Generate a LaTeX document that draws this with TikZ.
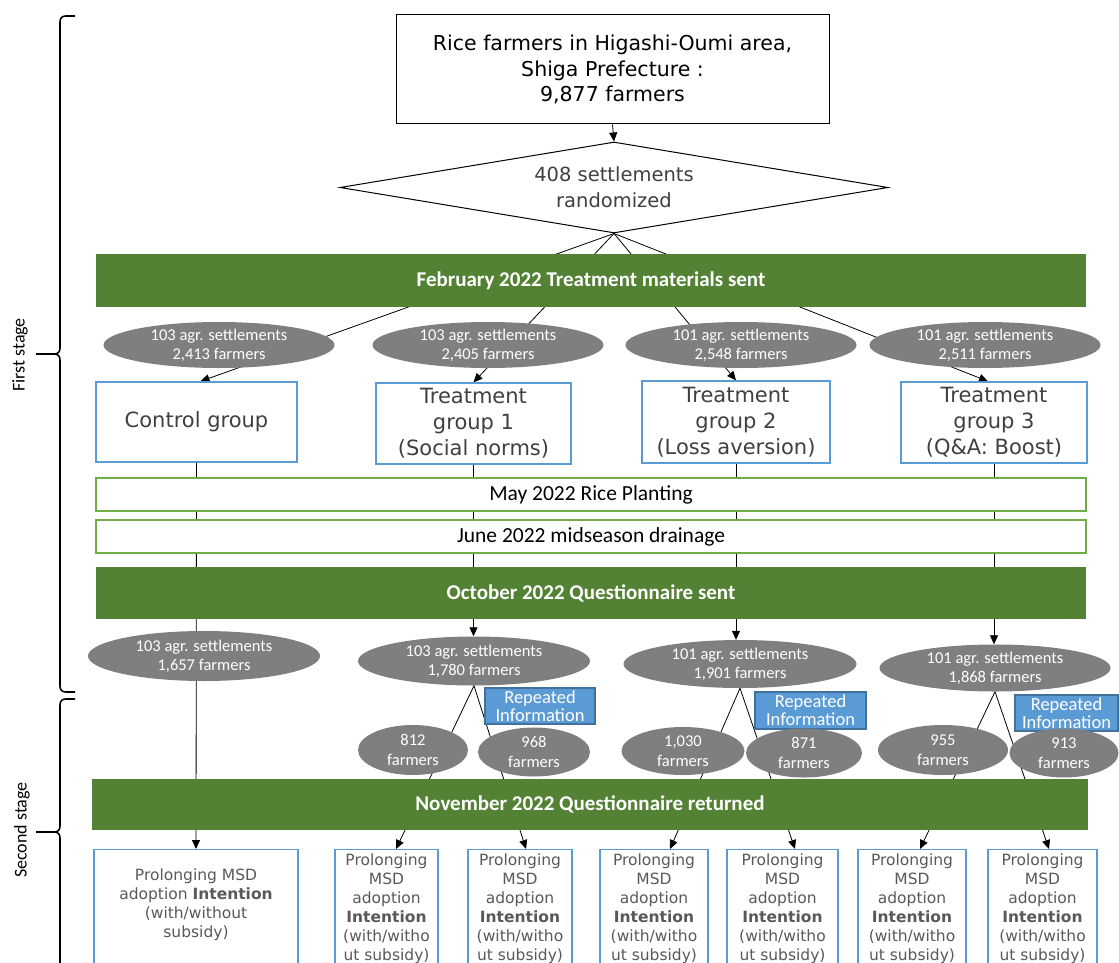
\documentclass[tikz,border=0pt]{standalone}
\usepackage{fontspec}
\setmainfont{Carlito}
\newfontfamily\dvfont{DejaVu Sans}
\usetikzlibrary{shapes.geometric,arrows.meta,calc,backgrounds}
\definecolor{barg}{HTML}{548235}
\definecolor{lineg}{HTML}{70AD47}
\definecolor{boxb}{HTML}{5B9BD5}
\definecolor{repb}{HTML}{41719C}
\definecolor{ellg}{HTML}{7F7F7F}
\definecolor{txtg}{HTML}{404040}
\definecolor{txtr}{HTML}{595959}
\newcommand{\resttxt}{Prolonging\\MSD\\adoption\\\textbf{Intention}\\(with/witho\\ut subsidy)\\[-13pt]\mbox{}}
\tikzset{
  bar/.style={fill=barg, text=white, font=\bfseries\fontsize{21}{25}\selectfont, minimum width=990pt, minimum height=53pt, inner sep=0pt},
  tbar/.style={draw=lineg, line width=1.4pt, fill=white, minimum width=990pt, minimum height=33pt, inner sep=0pt, font=\fontsize{21.5}{25}\selectfont},
  grp/.style={draw=boxb, line width=1.3pt, fill=white, text=txtg, font=\dvfont\fontsize{21}{26}\selectfont, align=center, inner sep=0pt},
  ell/.style={ellipse, fill=ellg, text=white, font=\fontsize{16.5}{19}\selectfont, align=center, inner xsep=0pt, inner ysep=-3pt},
  sell/.style={ellipse, fill=ellg, text=white, font=\fontsize{16.5}{19.5}\selectfont, align=center, inner xsep=0pt, inner ysep=-3pt},
  rep/.style={fill=boxb, draw=repb, line width=1.3pt, text=white, font=\fontsize{18.5}{18}\selectfont, align=center, inner sep=0pt},
  res/.style={draw=boxb, line width=1.3pt, fill=white, text=txtr, font=\dvfont\fontsize{15.5}{19}\selectfont, align=center, inner sep=0pt, anchor=north, minimum height=120pt},
  arr/.style={-{Triangle[length=9pt,width=8pt]}, line width=0.8pt},
  brace/.style={line width=1.6pt, line join=round},
  stagelbl/.style={rotate=90, font=\fontsize{18}{21}\selectfont}
}
\begin{document}
\begin{tikzpicture}[x=1pt,y=-1pt]
\useasboundingbox (0,0) rectangle (1119,963);
% top
\node[draw=black, line width=1pt, fill=white, minimum width=433pt, minimum height=109pt, align=center, inner sep=0pt,
      font=\dvfont\fontsize{20.5}{25.5}\selectfont] (top) at (612.5,69.5) {Rice farmers in Higashi-Oumi area,\\Shiga Prefecture :\\ 9,877 farmers};
\node[diamond, aspect=6, draw=black, line width=1pt, fill=white, minimum width=548pt, minimum height=91pt, inner sep=0pt, align=center,
      text=txtg, font=\dvfont\fontsize{19.5}{26}\selectfont] (dia) at (614,187.5) {408 settlements\\randomized};
% bars
\node[bar] (feb) at (591,280.5) {February 2022 Treatment materials sent};
\node[tbar] (may) at (591,494.5) {May 2022 Rice Planting};
\node[tbar] (jun) at (591,536.5) {June 2022 midseason drainage};
\node[bar, minimum height=52pt] (oct) at (591,593) {October 2022 Questionnaire sent};
\node[bar, minimum width=996pt, minimum height=51pt] (nov) at (590,804.5) {November 2022 Questionnaire returned};
% first row ellipses
\node[ell, minimum width=231pt, minimum height=46pt] (e0) at (219,345) {103 agr. settlements\\2,413 farmers};
\node[ell, minimum width=231pt, minimum height=46pt] (e1) at (488,345) {103 agr. settlements\\2,405 farmers};
\node[ell, minimum width=231pt, minimum height=46pt] (e2) at (741,345) {101 agr. settlements\\2,548 farmers};
\node[ell, minimum width=231pt, minimum height=46pt] (e3) at (985,345) {101 agr. settlements\\2,511 farmers};
% groups
\node[grp, minimum width=201pt, minimum height=80pt] (g0) at (196.5,422) {Control group};
\node[grp, minimum width=195pt, minimum height=81pt] (g1) at (473.5,423.5) {Treatment\\group 1\\(Social norms)};
\node[grp, minimum width=188pt, minimum height=82pt] (g2) at (736,422) {Treatment\\group 2\\(Loss aversion)};
\node[grp, minimum width=186pt, minimum height=81pt] (g3) at (994,422.5) {Treatment\\group 3\\(Q\&A: Boost)};
% second row ellipses
\node[ell, minimum width=232pt, minimum height=50pt] (f0) at (204,656) {103 agr. settlements\\1,657 farmers};
\node[ell, minimum width=232pt, minimum height=49pt] (f1) at (474,661) {103 agr. settlements\\1,780 farmers};
\node[ell, minimum width=233pt, minimum height=48pt] (f2) at (740,664) {101 agr. settlements\\1,901 farmers};
\node[ell, minimum width=231pt, minimum height=47pt] (f3) at (995,668) {101 agr. settlements\\1,868 farmers};
% repeated information
\node[rep, minimum width=110pt, minimum height=36pt] (r1) at (540,706) {Repeated\\Information};
\node[rep, minimum width=111pt, minimum height=37pt] (r2) at (810.5,710.5) {Repeated\\Information};
\node[rep, minimum width=103pt, minimum height=36pt] (r3) at (1066.5,713) {Repeated\\Information};
% sub ellipses
\node[sell, minimum width=110pt, minimum height=50pt] (s1) at (413,750) {812\\farmers};
\node[sell, minimum width=112pt, minimum height=49pt] (s2) at (534,752) {968\\farmers};
\node[sell, minimum width=123pt, minimum height=48pt] (s3) at (683,751) {1,030\\farmers};
\node[sell, minimum width=116pt, minimum height=49pt] (s4) at (804,753) {871\\farmers};
\node[sell, minimum width=130pt, minimum height=50pt] (s5) at (943,750) {955\\farmers};
\node[sell, minimum width=109pt, minimum height=49pt] (s6) at (1064,753) {913\\farmers};
% results
\node[res, minimum width=204pt] (c0) at (196,849) {Prolonging MSD\\adoption \textbf{Intention}\\(with/without\\subsidy)\\[-6pt]\mbox{}};
\node[res, minimum width=103pt] (c1) at (386.5,849) {\resttxt};
\node[res, minimum width=104pt] (c2) at (520,849) {\resttxt};
\node[res, minimum width=108pt] (c3) at (654,849) {\resttxt};
\node[res, minimum width=111pt] (c4) at (782.5,849) {\resttxt};
\node[res, minimum width=108pt] (c5) at (912,849) {\resttxt};
\node[res, minimum width=109pt] (c6) at (1042.5,849) {\resttxt};
% stage labels
\node[stagelbl] (l1) at (20,355) {First stage};
\node[stagelbl] (l2) at (22,830) {Second stage};
% connectors
\draw[arr] (top.south) -- (dia.north);
\begin{scope}[on background layer]
  \draw[arr] (dia.south) -- ($(g0.north)+(4,0)$);
  \draw[arr] (dia.south) -- (g1.north);
  \draw[arr] (dia.south) -- (g2.north);
  \draw[arr] (dia.south) -- ($(g3.north)+(-6,0)$);
  \draw[arr] (g0.south) -- (c0.north);
  \draw[arr] (g1.south) -- (g1.south |- f1.north);
  \draw[arr] (g2.south) -- (g2.south |- f2.north);
  \draw[arr] (g3.south) -- (g3.south |- f3.north);
  \draw[arr] (f1.south) -- ($(c1.north)+(9.5,0)$);
  \draw[arr] (f1.south) -- ($(c2.north)+(6,0)$);
  \draw[arr] (f2.south) -- ($(c3.north)+(16,0)$);
  \draw[arr] (f2.south) -- ($(c4.north)+(12.5,0)$);
  \draw[arr] (f3.south) -- ($(c5.north)+(8,0)$);
  \draw[arr] (f3.south) -- ($(c6.north)+(6.5,0)$);
\end{scope}
% braces
\draw[brace] (75,16) -- (66,16) .. controls (62,16) and (60,18) .. (60,22) -- (60,348)
  .. controls (60,352) and (58,354) .. (54,354) -- (36,354);
\draw[brace] (54,354) .. controls (58,354) and (60,356) .. (60,360) -- (60,686)
  .. controls (60,690) and (62,692) .. (66,692) -- (75,692);
\draw[brace] (75,699) -- (66,699) .. controls (62,699) and (60,701) .. (60,705) -- (60,826)
  .. controls (60,830) and (58,832) .. (54,832) -- (36,832);
\draw[brace] (54,832) .. controls (58,832) and (60,834) .. (60,838) -- (60,975);
\end{tikzpicture}
\end{document}
